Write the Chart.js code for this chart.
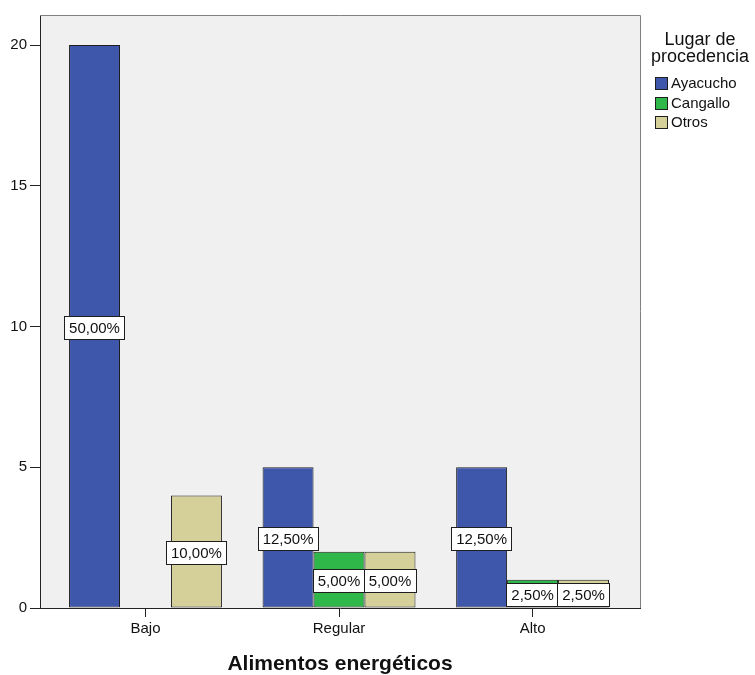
<!DOCTYPE html>
<html>
<head>
<meta charset="utf-8">
<script src="https://cdn.jsdelivr.net/npm/chart.js@4/dist/chart.umd.min.js"></script>
<style>
  html, body { margin: 0; padding: 0; background: #ffffff; }
  #wrap { width: 755px; height: 675px; }
</style>
</head>
<body>
<div id="wrap"><canvas id="c" width="755" height="675"></canvas></div>
<script>
// Counts of "Alimentos energéticos" by place of origin
const categories = ['Bajo', 'Regular', 'Alto'];
const seriesNames = ['Ayacucho', 'Cangallo', 'Otros'];
const ayacucho = [20, 5, 5];
const cangallo = [0, 2, 1];
const otros = [4, 2, 1];
const yTicks = [0, 5, 10, 15, 20];
const xTitle = 'Alimentos energéticos';
const legendTitle = ['Lugar de', 'procedencia'];

const seriesValues = [ayacucho, cangallo, otros];
const colors = ['#3e57ab', '#2fb74a', '#d5cf99'];
const total = seriesValues.flat().reduce((a, b) => a + b, 0);

const FONT = '"Liberation Sans", Arial, sans-serif';

const datasets = seriesNames.map((name, s) => ({
  label: name,
  data: seriesValues[s].map((v, i) => ({ x: i, y: v })),
  backgroundColor: colors[s],
  borderColor: '#1e1e1e',
  borderWidth: 1,
  borderSkipped: false,
  categoryPercentage: 0.79,
  barPercentage: 1.0
}));

// Grey plot background plus the lighter top/right frame
const plotFrame = {
  id: 'plotFrame',
  beforeDraw(chart) {
    const { ctx, chartArea: a } = chart;
    ctx.save();
    ctx.fillStyle = '#f0f0f0';
    ctx.fillRect(a.left, a.top, a.right - a.left, a.bottom - a.top);
    ctx.restore();
  },
  afterDraw(chart) {
    const { ctx, chartArea: a } = chart;
    ctx.save();
    ctx.strokeStyle = '#808080';
    ctx.lineWidth = 1;
    ctx.beginPath();
    ctx.moveTo(a.left, a.top + 0.5);
    ctx.lineTo(a.right + 0.5, a.top + 0.5);
    ctx.lineTo(a.right + 0.5, a.bottom);
    ctx.stroke();
    ctx.restore();
  }
};

// Percentage boxes in the middle of each bar
const percentBoxes = {
  id: 'percentBoxes',
  afterDatasetsDraw(chart) {
    const { ctx } = chart;
    ctx.save();
    ctx.font = '15px ' + FONT;
    ctx.textAlign = 'center';
    ctx.textBaseline = 'middle';
    chart.data.datasets.forEach((ds, di) => {
      const meta = chart.getDatasetMeta(di);
      meta.data.forEach((bar, i) => {
        const v = ds.data[i].y;
        if (!v) return;
        const txt = (v / total * 100).toFixed(2).replace('.', ',') + '%';
        const w = Math.round(ctx.measureText(txt).width) + 10;
        const h = 24;
        const cy = (bar.y + bar.base) / 2 + 1.5;
        const top = Math.round(cy - h / 2);
        const left = Math.round(bar.x - w / 2);
        ctx.fillStyle = '#ffffff';
        ctx.fillRect(left, top, w, h);
        ctx.strokeStyle = '#1e1e1e';
        ctx.lineWidth = 1;
        ctx.strokeRect(left + 0.5, top + 0.5, w - 1, h - 1);
        ctx.fillStyle = '#111111';
        ctx.fillText(txt, bar.x, top + h / 2 + 1);
      });
    });
    ctx.restore();
  }
};

// Axis title and legend on the right
const extras = {
  id: 'extras',
  afterDraw(chart) {
    const { ctx, chartArea: a } = chart;
    ctx.save();
    ctx.fillStyle = '#111111';
    ctx.textAlign = 'center';
    ctx.textBaseline = 'alphabetic';
    ctx.font = 'bold 21px ' + FONT;
    ctx.fillText(xTitle, (a.left + a.right) / 2, 670);

    ctx.font = '18px ' + FONT;
    ctx.fillText(legendTitle[0], 700, 45);
    ctx.fillText(legendTitle[1], 700, 62);

    ctx.font = '15px ' + FONT;
    ctx.textAlign = 'left';
    ctx.textBaseline = 'middle';
    chart.data.datasets.forEach((ds, i) => {
      const y = Math.round(77 + i * 19.5);
      ctx.fillStyle = ds.backgroundColor;
      ctx.fillRect(655, y, 13, 13);
      ctx.strokeStyle = '#1e1e1e';
      ctx.lineWidth = 1;
      ctx.strokeRect(655.5, y + 0.5, 12, 12);
      ctx.fillStyle = '#111111';
      ctx.fillText(ds.label, 671, y + 7);
    });
    ctx.restore();
  }
};

new Chart(document.getElementById('c'), {
  type: 'bar',
  data: { datasets },
  plugins: [plotFrame, percentBoxes, extras],
  options: {
    responsive: false,
    animation: false,
    layout: { padding: { left: 0, top: 15, right: 115, bottom: 0 } },
    plugins: { legend: { display: false }, tooltip: { enabled: false } },
    scales: {
      x: {
        type: 'linear',
        min: -0.545,
        max: 2.555,
        offset: false,
        afterBuildTicks(scale) { scale.ticks = categories.map((_, i) => ({ value: i })); },
        afterFit(scale) { scale.height = 67; },
        ticks: {
          callback: (v) => categories[v],
          color: '#111111',
          font: { family: FONT, size: 15 },
          padding: 3,
          maxRotation: 0,
          autoSkip: false
        },
        grid: { display: true, drawOnChartArea: false, offset: false, tickLength: 9, color: '#222222' },
        border: { display: true, color: '#222222', width: 1 }
      },
      y: {
        min: 0,
        max: 21.07,
        afterBuildTicks(scale) { scale.ticks = yTicks.map(v => ({ value: v })); },
        afterFit(scale) { scale.width = 40; },
        ticks: {
          color: '#111111',
          font: { family: FONT, size: 15 },
          padding: 3
        },
        grid: { display: true, drawOnChartArea: false, tickLength: 10, color: '#222222' },
        border: { display: true, color: '#222222', width: 1 }
      }
    }
  }
});
</script>
</body>
</html>
